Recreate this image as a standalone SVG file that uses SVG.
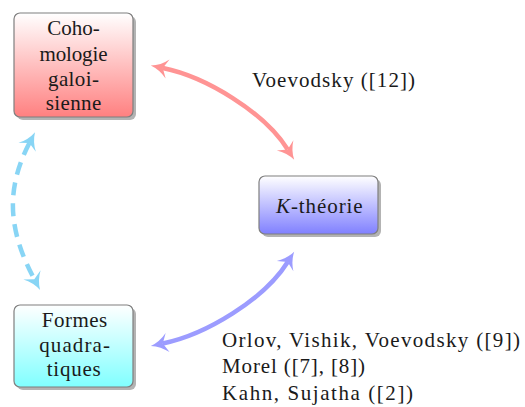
<svg xmlns="http://www.w3.org/2000/svg" width="525" height="407" viewBox="0 0 525 407">
<style>
text{font-family:'Liberation Serif','Times New Roman',serif;font-size:21px;fill:#1a1a1a}
.box{stroke:#7f7f7f;stroke-width:1.2}
.shadow{fill:#b3b3b3}
.conn{fill:none;stroke-width:4.5}
.c{text-anchor:middle}
</style>
<defs>
<linearGradient id="gRed" x1="0" y1="0" x2="0" y2="1"><stop offset="0" stop-color="#ffffff"/><stop offset="1" stop-color="#ff8080"/></linearGradient>
<linearGradient id="gBlue" x1="0" y1="0" x2="0" y2="1"><stop offset="0" stop-color="#ffffff"/><stop offset="1" stop-color="#8080ff"/></linearGradient>
<linearGradient id="gCyan" x1="0" y1="0" x2="0" y2="1"><stop offset="0" stop-color="#ffffff"/><stop offset="1" stop-color="#80ffff"/></linearGradient>
<marker id="aRed" markerUnits="userSpaceOnUse" markerWidth="22" markerHeight="22" refX="3" refY="0" viewBox="-2 -9 16 18" orient="auto-start-reverse" overflow="visible"><path d="M13,0 Q5,-2 -1,-8 L3,0 L-1,8 Q5,2 13,0Z" fill="#ff9494"/></marker>
<marker id="aBlue" markerUnits="userSpaceOnUse" markerWidth="22" markerHeight="22" refX="3" refY="0" viewBox="-2 -9 16 18" orient="auto-start-reverse" overflow="visible"><path d="M13,0 Q5,-2 -1,-8 L3,0 L-1,8 Q5,2 13,0Z" fill="#9c9cff"/></marker>
<marker id="aCyan" markerUnits="userSpaceOnUse" markerWidth="22" markerHeight="22" refX="3" refY="0" viewBox="-2 -9 16 18" orient="auto-start-reverse" overflow="visible"><path d="M13,0 Q5,-2 -1,-8 L3,0 L-1,8 Q5,2 13,0Z" fill="#88d5f5"/></marker>
</defs>
<g id="connectors">
<path class="conn" stroke="#ff9494" marker-start="url(#aRed)" marker-end="url(#aRed)" d="M162.8,68 C206,76.8 264.3,112.2 287.7,149.5"/>
<path class="conn" stroke="#9c9cff" marker-start="url(#aBlue)" marker-end="url(#aBlue)" d="M162.8,343.5 C206,334.7 264.3,299.3 287.7,262"/>
<path class="conn" stroke="#88d5f5" stroke-dasharray="13,8" marker-start="url(#aCyan)" marker-end="url(#aCyan)" d="M29.4,143 C4.6,191 9,231.7 34.3,279.2"/>
<text x="252" y="87" textLength="163">Voevodsky ([12])</text>
<text x="222" y="346.5" textLength="298">Orlov, Vishik, Voevodsky ([9])</text>
<text x="222" y="373" textLength="143">Morel ([7], [8])</text>
<text x="222" y="399.5" textLength="191">Kahn, Sujatha ([2])</text>
</g>
<g id="cohomologie">
<rect class="shadow" x="17" y="16" width="119" height="104" rx="6"/>
<rect class="box" x="14" y="13" width="119" height="104" rx="6" fill="url(#gRed)"/>
<text class="c" x="73.5" y="35" textLength="52.6">Coho-</text>
<text class="c" x="73.5" y="60.5" textLength="68">mologie</text>
<text class="c" x="73.5" y="86" textLength="51">galoi-</text>
<text class="c" x="73.5" y="110" textLength="55.7">sienne</text>
</g>
<g id="ktheorie">
<rect class="shadow" x="262" y="179" width="119" height="58" rx="6"/>
<rect class="box" x="259" y="176" width="119" height="58" rx="6" fill="url(#gBlue)"/>
<text class="c" x="319.3" y="213.3" textLength="86.7"><tspan font-style="italic">K</tspan>-théorie</text>
</g>
<g id="formes">
<rect class="shadow" x="17" y="308" width="119" height="82" rx="6"/>
<rect class="box" x="14" y="305" width="119" height="82" rx="6" fill="url(#gCyan)"/>
<text class="c" x="74.5" y="327" textLength="65.6">Formes</text>
<text class="c" x="74.6" y="351.5" textLength="70.7">quadra-</text>
<text class="c" x="73.7" y="376" textLength="54">tiques</text>
</g>
</svg>
